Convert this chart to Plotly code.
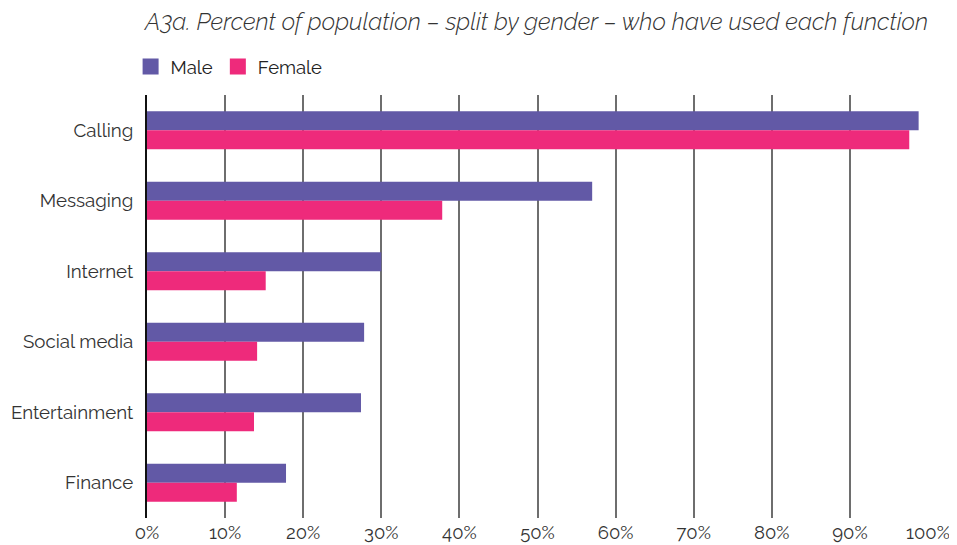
import plotly.graph_objects as go

categories = ["Calling", "Messaging", "Internet", "Social media", "Entertainment", "Finance"]
male = [98.8, 57.0, 30.0, 27.8, 27.4, 17.8]
female = [97.6, 37.8, 15.2, 14.1, 13.7, 11.5]
tick_vals = [0, 10, 20, 30, 40, 50, 60, 70, 80, 90, 100]
tick_text = [f"{v}%" for v in tick_vals]
series_names = ["Male", "Female"]
series_colors = ["#6259a6", "#ee2a7b"]

FONT = "Raleway, Lato, 'Open Sans', sans-serif"

fig = go.Figure()
for name, vals, col in zip(series_names, [male, female], series_colors):
    fig.add_trace(go.Bar(y=categories, x=vals, name=name, orientation="h",
                         marker=dict(color=col, line=dict(width=0)),
                         showlegend=False, legendgroup=name))
# legend entries with larger square swatches
for name, col in zip(series_names, series_colors):
    fig.add_trace(go.Scatter(x=[None], y=[None], mode="markers", name=name,
                             marker=dict(symbol="square", size=16, color=col),
                             legendgroup=name, showlegend=True))

fig.update_layout(
    width=949, height=537,
    margin=dict(l=139, r=29, t=87, b=27, autoexpand=False),
    paper_bgcolor="white", plot_bgcolor="white",
    barmode="group", bargap=0.46, bargroupgap=0,
    font=dict(family=FONT, size=16, color="#333333"),
    title=dict(text="A3a. Percent of population – split by gender – who have used each function",
               x=1.0, xref="paper", xanchor="right", y=1 - 14/537, yanchor="middle",
               font=dict(family=FONT, size=23.7, color="#333333", style="italic", weight=300)),
    legend=dict(orientation="h", x=-0.021, xanchor="left", y=1 + 28/423, yanchor="middle",
                font=dict(size=18.5, color="#222222"), itemwidth=30, traceorder="normal",
                bgcolor="rgba(0,0,0,0)"),
    showlegend=True,
)
fig.update_xaxes(range=[0, 100], tickvals=tick_vals, ticktext=tick_text,
                 showgrid=True, gridcolor="#6e6e6e", gridwidth=1.5,
                 zeroline=False, showline=False, ticks="", ticklabelstandoff=1,
                 automargin=False,
                 tickfont=dict(size=18.5, color="#333333"), fixedrange=True)
fig.update_yaxes(autorange="reversed", showline=True, linecolor="#111111", linewidth=2,
                 showgrid=False, ticks="", ticklabelstandoff=8, automargin=False,
                 tickfont=dict(size=18.7, color="#333333"))

fig.write_html("out.html")
